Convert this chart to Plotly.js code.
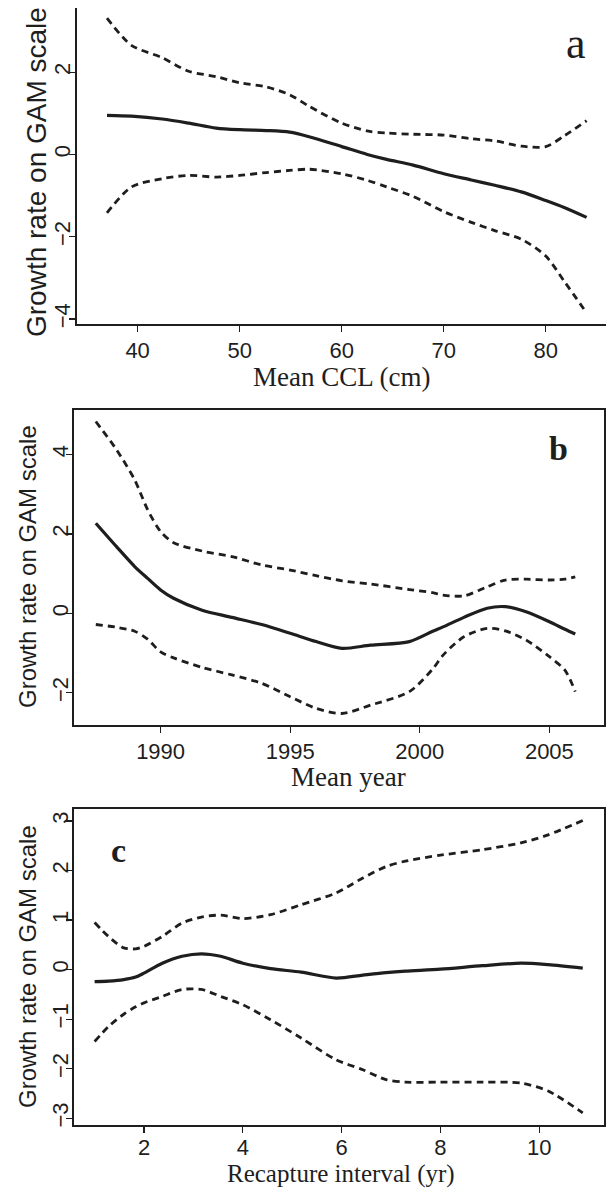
<!DOCTYPE html>
<html>
<head>
<meta charset="utf-8">
<script src="https://cdn.plot.ly/plotly-3.0.1.min.js"></script>
<style>html,body{margin:0;padding:0;background:#fff;}#chart{width:606px;height:1190px;}</style>
</head>
<body>
<div id="chart"></div>
<script>
// Panel a: Mean CCL (cm)
const cclX = [37, 39.4, 42.4, 45, 47.7, 50, 52.6, 54.9, 56.8, 60, 62.5, 64.4, 67, 70, 72.7, 75, 77.6, 80, 81.8, 84];
const cclFit = [0.95, 0.93, 0.86, 0.76, 0.64, 0.60, 0.58, 0.54, 0.43, 0.19, 0.0, -0.12, -0.26, -0.47, -0.62, -0.75, -0.91, -1.12, -1.29, -1.53];
const cclUpper = [3.31, 2.65, 2.35, 2.02, 1.89, 1.74, 1.64, 1.45, 1.17, 0.76, 0.57, 0.52, 0.49, 0.47, 0.38, 0.33, 0.20, 0.19, 0.45, 0.82];
const cclLower = [-1.42, -0.79, -0.59, -0.51, -0.55, -0.51, -0.44, -0.39, -0.36, -0.47, -0.63, -0.79, -1.02, -1.39, -1.65, -1.85, -2.06, -2.47, -3.08, -3.85];

// Panel b: Mean year
const yearX = [1987.5, 1988.3, 1989, 1989.5, 1990, 1990.5, 1991.6, 1992.75, 1993.9, 1995, 1996, 1997, 1998.1, 1999.6, 2000.5, 2000.9, 2001.7, 2002.6, 2003.3, 2004.1, 2005, 2005.6, 2006];
const yearFit = [2.27, 1.68, 1.18, 0.88, 0.59, 0.38, 0.08, -0.10, -0.28, -0.50, -0.71, -0.88, -0.80, -0.71, -0.45, -0.34, -0.10, 0.13, 0.17, 0.04, -0.21, -0.40, -0.52];
const yearUpper = [4.83, 4.12, 3.36, 2.61, 2.06, 1.78, 1.57, 1.43, 1.22, 1.09, 0.95, 0.82, 0.74, 0.60, 0.52, 0.46, 0.44, 0.67, 0.84, 0.86, 0.84, 0.86, 0.92];
const yearLower = [-0.28, -0.35, -0.45, -0.65, -0.97, -1.12, -1.36, -1.55, -1.76, -2.10, -2.39, -2.52, -2.31, -1.97, -1.40, -1.05, -0.59, -0.38, -0.44, -0.67, -1.09, -1.43, -1.97];

// Panel c: Recapture interval (yr)
const intX = [1.0, 1.28, 1.59, 1.83, 2.0, 2.37, 2.77, 3.16, 3.55, 4.0, 4.56, 5.18, 5.89, 6.43, 6.9, 7.29, 8.0, 8.85, 9.63, 10.18, 10.88];
const intFit = [-0.24, -0.23, -0.20, -0.15, -0.07, 0.13, 0.27, 0.32, 0.27, 0.13, 0.02, -0.05, -0.17, -0.11, -0.06, -0.03, 0.01, 0.08, 0.13, 0.10, 0.03];
const intUpper = [0.95, 0.67, 0.44, 0.42, 0.47, 0.67, 0.94, 1.06, 1.10, 1.03, 1.11, 1.31, 1.55, 1.85, 2.08, 2.19, 2.31, 2.42, 2.56, 2.72, 3.01];
const intLower = [-1.45, -1.15, -0.90, -0.75, -0.67, -0.54, -0.40, -0.40, -0.54, -0.71, -1.01, -1.38, -1.82, -2.02, -2.22, -2.27, -2.27, -2.27, -2.29, -2.45, -2.89];

const xTitles = ["Mean CCL (cm)", "Mean year", "Recapture interval (yr)"];
const yTitle = "Growth rate on GAM scale";
const panelLetters = ["a", "b", "c"];

const W = 606, H = 1190;
const ink = "#1e1e1e";
const sans = "Liberation Sans, Arial, sans-serif";
const serif = "Liberation Serif, Times New Roman, serif";

function px(x){ return x / W; }
function py(y){ return 1 - y / H; }

function trio(x, fit, up, lo, xa, ya){
  const base = {type: "scatter", mode: "lines", x: x, xaxis: xa, yaxis: ya, hoverinfo: "skip", showlegend: false};
  return [
    Object.assign({}, base, {y: up, line: {color: ink, width: 2.8, dash: "7px,5px", shape: "spline", smoothing: 0.8}}),
    Object.assign({}, base, {y: lo, line: {color: ink, width: 2.8, dash: "7px,5px", shape: "spline", smoothing: 0.8}}),
    Object.assign({}, base, {y: fit, line: {color: ink, width: 3.2, shape: "spline", smoothing: 0.8}})
  ];
}

const data = [].concat(
  trio(cclX, cclFit, cclUpper, cclLower, "x", "y"),
  trio(yearX, yearFit, yearUpper, yearLower, "x2", "y2"),
  trio(intX, intFit, intUpper, intLower, "x3", "y3")
);

function xax(domain, range, dtick, anchor, mirror, standoff){
  return {domain: domain, range: range, dtick: dtick, tick0: 0, anchor: anchor,
    showline: true, linecolor: ink, linewidth: 2, mirror: mirror,
    ticks: "outside", ticklen: 6, tickwidth: 1.2, tickcolor: ink,
    ticklabelstandoff: standoff,
    showgrid: false, zeroline: false,
    tickfont: {family: sans, size: 22, color: ink}};
}
function yax(domain, range, dtick, anchor, mirror){
  return {domain: domain, range: range, dtick: dtick, tick0: 0, anchor: anchor,
    showline: true, linecolor: ink, linewidth: 2, mirror: mirror,
    ticks: "outside", ticklen: 6, tickwidth: 1.2, tickcolor: ink,
    tickangle: -90, ticklabelstandoff: -10,
    showgrid: false, zeroline: false,
    tickfont: {family: sans, size: 22, color: ink}};
}

const layout = {
  width: W, height: H,
  margin: {l: 0, r: 0, t: 0, b: 0},
  paper_bgcolor: "#fff", plot_bgcolor: "#fff",
  showlegend: false,
  xaxis: xax([px(77), 1.0], [34.06, 85.9], 10, "y", false, 0),
  yaxis: yax([py(324), py(8.3)], [-4.12, 3.55], 2, "x", false),
  xaxis2: xax([px(74.3), px(604.3)], [1986.67, 2007.12], 5, "y2", true, 0),
  yaxis2: yax([py(725), py(410)], [-2.81, 5.12], 2, "x2", true),
  xaxis3: xax([px(74.3), px(604.3)], [0.589, 11.316], 2, "y3", true, -4),
  yaxis3: yax([py(1125), py(809.3)], [-3.135, 3.236], 1, "x3", true),
  annotations: [
    {text: xTitles[0], xref: "paper", yref: "paper", x: px(341), y: py(377), xanchor: "center", yanchor: "middle", showarrow: false, font: {family: serif, size: 27, color: ink}},
    {text: xTitles[1], xref: "paper", yref: "paper", x: px(348), y: py(777), xanchor: "center", yanchor: "middle", showarrow: false, font: {family: serif, size: 27, color: ink}},
    {text: xTitles[2], xref: "paper", yref: "paper", x: px(341), y: 0, xanchor: "center", yanchor: "bottom", showarrow: false, font: {family: serif, size: 25, color: ink}},
    {text: yTitle, xref: "paper", yref: "paper", x: px(36), y: py(172), xanchor: "center", yanchor: "middle", textangle: -90, showarrow: false, font: {family: sans, size: 28, color: ink}},
    {text: yTitle, xref: "paper", yref: "paper", x: px(27), y: py(567), xanchor: "center", yanchor: "middle", textangle: -90, showarrow: false, font: {family: sans, size: 24, color: ink}},
    {text: yTitle, xref: "paper", yref: "paper", x: px(27), y: py(967), xanchor: "center", yanchor: "middle", textangle: -90, showarrow: false, font: {family: sans, size: 24, color: ink}},
    {text: panelLetters[0], xref: "paper", yref: "paper", x: px(576), y: py(44), xanchor: "center", yanchor: "middle", showarrow: false, font: {family: serif, size: 44, color: ink}},
    {text: "<b>" + panelLetters[1] + "</b>", xref: "paper", yref: "paper", x: px(558), y: py(448), xanchor: "center", yanchor: "middle", showarrow: false, font: {family: serif, size: 34, color: ink}},
    {text: "<b>" + panelLetters[2] + "</b>", xref: "paper", yref: "paper", x: px(118), y: py(850), xanchor: "center", yanchor: "middle", showarrow: false, font: {family: serif, size: 34, color: ink}}
  ]
};

Plotly.newPlot("chart", data, layout, {staticPlot: true, displayModeBar: false});
</script>
</body>
</html>
